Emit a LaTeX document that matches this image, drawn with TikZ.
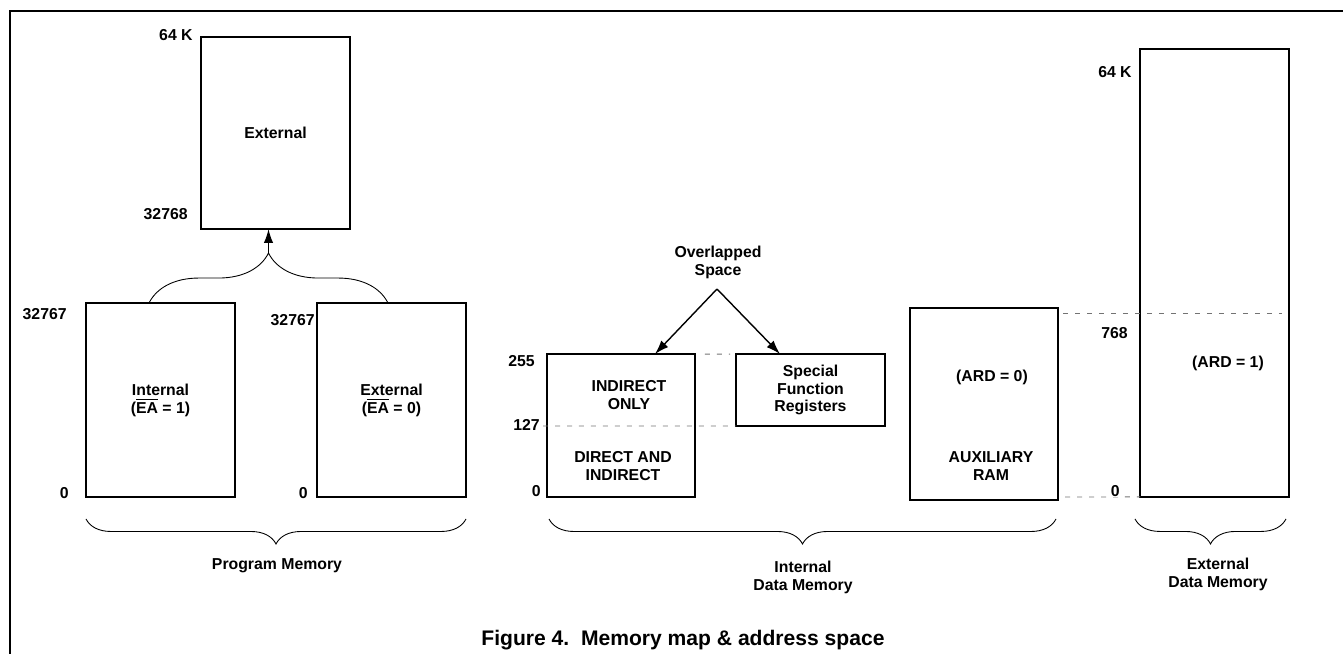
\documentclass[tikz,border=0pt]{standalone}
\usepackage{fontspec}
\setmainfont{Liberation Sans}
\usetikzlibrary{arrows.meta}
\usetikzlibrary{decorations.pathreplacing}

\newcommand{\lbl}{\bfseries\fontsize{9}{10.2}\selectfont}
\newcommand{\nEA}{$\overline{\hbox{EA}}$}

\tikzset{
  membox/.style={draw, line width=1.1pt, outer sep=0pt, inner sep=2pt,
    minimum width=2.98cm, align=center, font=\lbl},
  addr/.style={anchor=east, inner sep=0pt, font=\lbl},
  txt/.style={align=center, inner sep=0pt, font=\lbl},
  gap/.style={draw=black!55, line width=0.55pt, dash pattern=on 0.1cm off 0.14cm},
  curly/.style={decorate, decoration={brace, amplitude=#1}, line width=0.5pt},
  pointer/.style={-{Latex[length=0.28cm,width=0.19cm]}, line width=0.8pt},
}

\begin{document}
\begin{tikzpicture}[x=0.02cm, y=-0.02cm]
        \useasboundingbox (0,0) rectangle (1343,654);
        \draw[line width=1.1pt] (1343,11) -- (10,11) -- (10,654);

        % program memory
        \node[membox, minimum height=3.84cm] (extprog) at (275.5,133) {External};
        \node[membox, minimum height=3.88cm] (intprog) at (160.5,400) {Internal\\(\nEA{} = 1)};
        \node[membox, minimum height=3.88cm] (extlow) at (391.5,400) {External\\(\nEA{} = 0)};

        \node[addr] (pk) at (193,35) {64 K};
        \node[addr] (p32768) at (188,214) {32768};
        \node[addr] (pa32767) at (67,314) {32767};
        \node[addr] (pa0) at (69,493) {0};
        \node[addr] (pb32767) at (315,320) {32767};
        \node[addr] (pb0) at (308,493) {0};

        \draw[curly=1cm] ([xshift=-0.23cm]intprog.north) -- ([xshift=-0.07cm]extlow.north);
        \coordinate (ptip) at (268.5,253);
        \draw[pointer] (ptip) -- (ptip |- extprog.south);

        \draw[curly=0.5cm] ([yshift=-0.44cm]extlow.south east) -- ([yshift=-0.44cm]intprog.south west);
        \node[txt] (pmem) at (277,566) {Program Memory};

        % internal data memory
        \node[membox, minimum width=2.96cm, minimum height=2.86cm] (iram) at (621,425.5) {};
        \node[membox, minimum height=1.44cm] (sfr) at (810.5,390) {Special\\Function\\Registers};
        \node[txt] (indonly) at (629,395) {INDIRECT\\ONLY};
        \node[txt] (dirind) at (623,466) {DIRECT AND\\INDIRECT};

        \node[addr] (i255) at (535,361) {255};
        \node[addr] (i127) at (540,425) {127};
        \node[addr] (i0) at (541,491) {0};

        \draw[gap] ([xshift=0.2cm]iram.north east) -- ([xshift=-0.12cm]sfr.north west);
        \coordinate (g127) at (543,426);
        \draw[gap] (g127) -- (sfr.south west);

        \node[txt] (ovl) at (718,262) {Overlapped\\Space};
        \coordinate (ovtip) at (717,289);
        \draw[pointer] (ovtip) -- ([xshift=0.68cm]iram.north);
        \draw[pointer] (ovtip) -- ([xshift=-0.61cm]sfr.north);

        \node[membox, minimum width=2.96cm, minimum height=3.84cm] (aux) at (984,404) {};
        \node[txt] (ard0) at (992,377) {(ARD = 0)};
        \node[txt] (auxram) at (991,466) {AUXILIARY\\RAM};

        \draw[curly=0.5cm] ([xshift=-0.04cm,yshift=-0.38cm]aux.south east) -- ([xshift=0.04cm,yshift=-0.44cm]iram.south west);
        \node[txt] (idm) at (803,577) {Internal\\Data Memory};

        % external data memory
        \node[membox, minimum height=8.96cm] (extdata) at (1214.5,273) {};
        \node[txt] (ard1) at (1228,363) {(ARD = 1)};

        \coordinate (g768) at (1063,313);
        \coordinate (e768) at (1282,313);
        \draw[gap] (g768) -- (e768);
        \coordinate (g0) at (1065,497);
        \draw[gap] (g0) -- (extdata.south west);

        \node[addr] (ek) at (1132,72) {64 K};
        \node[addr] (e768lbl) at (1128,333) {768};
        \node[addr, fill=white] (e0) at (1120,491) {0};

        \draw[curly=0.5cm] ([xshift=-0.06cm,yshift=-0.44cm]extdata.south east) -- ([xshift=-0.1cm,yshift=-0.44cm]extdata.south west);
        \node[txt] (edm) at (1218,574) {External\\Data Memory};

        \node[font=\bfseries\fontsize{12}{14}\selectfont, inner sep=0pt] (cap) at (683,640)
            {Figure 4.\ \ Memory map \& address space};
\end{tikzpicture}
\end{document}
